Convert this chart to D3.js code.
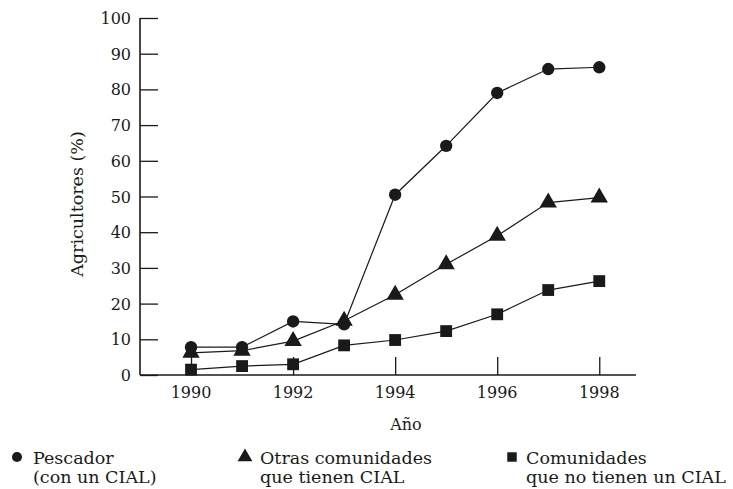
<!DOCTYPE html>
<html><head><meta charset="utf-8">
<script src="https://cdn.jsdelivr.net/npm/d3@7"></script>
<style>body{margin:0;background:#fff}svg{display:block}text{font-family:"DejaVu Serif",serif;fill:#1a1a1a}</style>
</head><body>
<svg id="c" width="733" height="489"></svg>
<script>
const years = [1990,1991,1992,1993,1994,1995,1996,1997,1998];
const pescador = [7.8,7.8,15.0,14.2,50.5,64.2,79.0,85.7,86.2];
const otras = [6.2,6.8,9.5,15.2,22.5,31.0,39.0,48.3,49.7];
const comunidades = [1.5,2.5,3.0,8.3,9.8,12.3,17.0,23.8,26.3];
const yTicks = [0,10,20,30,40,50,60,70,80,90,100];
const xTicks = [1990,1992,1994,1996,1998];
const seriesNames = [["Pescador","(con un CIAL)"],["Otras comunidades","que tienen CIAL"],["Comunidades","que no tienen un CIAL"]];
const yLabel = "Agricultores (%)";
const xLabel = "Año";

const svg = d3.select("#c");
const ink = "#1a1a1a";
const x = d3.scaleLinear().domain([1989, 1998.72]).range([140, 636]);
const y = d3.scaleLinear().domain([0, 100]).range([375, 18]);

// y axis
const ya = svg.append("g").attr("transform","translate(140,0)")
  .call(d3.axisRight(y).tickValues(yTicks).tickSize(18).tickFormat(""));
ya.select(".domain").remove();
ya.selectAll("line").attr("stroke",ink).attr("stroke-width",1.3);
svg.append("line").attr("x1",140).attr("x2",140).attr("y1",y(100)).attr("y2",y(0)).attr("stroke",ink).attr("stroke-width",1.6);
svg.append("g").selectAll("text").data(yTicks).join("text")
  .attr("x",131).attr("y",d=>y(d)+6).attr("text-anchor","end").attr("font-size",16).text(d=>d);

// x axis
const xa = svg.append("g").attr("transform","translate(0,375)")
  .call(d3.axisTop(x).tickValues(xTicks).tickSize(18).tickFormat(""));
xa.select(".domain").remove();
xa.selectAll("line").attr("stroke",ink).attr("stroke-width",1.3);
svg.append("line").attr("x1",140).attr("x2",636).attr("y1",375).attr("y2",375).attr("stroke",ink).attr("stroke-width",1.6);
svg.append("g").selectAll("text").data(xTicks).join("text")
  .attr("x",d=>x(d)).attr("y",398).attr("text-anchor","middle").attr("font-size",16).text(d=>d);

svg.append("text").attr("x",406).attr("y",430).attr("text-anchor","middle").attr("font-size",16).text(xLabel);
svg.append("text").attr("transform","translate(83,204) rotate(-90)").attr("text-anchor","middle").attr("font-size",17.5).text(yLabel);

const line = d3.line().x((d,i)=>x(years[i])).y(d=>y(d));
const data = [pescador, otras, comunidades];
const shapes = [d3.symbolCircle, d3.symbolTriangle, d3.symbolSquare];
const sizes = [120, 130, 140];
data.forEach((s,k)=>{
  svg.append("path").attr("d",line(s)).attr("fill","none").attr("stroke",ink).attr("stroke-width",1.2);
});
data.forEach((s,k)=>{
  svg.append("g").selectAll("path").data(s).join("path")
    .attr("transform",(d,i)=>`translate(${x(years[i])},${y(d)})`)
    .attr("d",d3.symbol().type(shapes[k]).size(sizes[k])).attr("fill",ink);
});

// legend
const legX = [17, 245, 512];
const legT = [33, 260, 526];
const legS = [80, 95, 90];
seriesNames.forEach((nm,k)=>{
  svg.append("path").attr("transform",`translate(${legX[k]},${457})`)
    .attr("d",d3.symbol().type(shapes[k]).size(legS[k])).attr("fill",ink);
  const t = svg.append("text").attr("font-size",17.5);
  t.append("tspan").attr("x",legT[k]).attr("y",464).text(nm[0]);
  t.append("tspan").attr("x",legT[k]).attr("y",483).text(nm[1]);
});
</script>
</body></html>
